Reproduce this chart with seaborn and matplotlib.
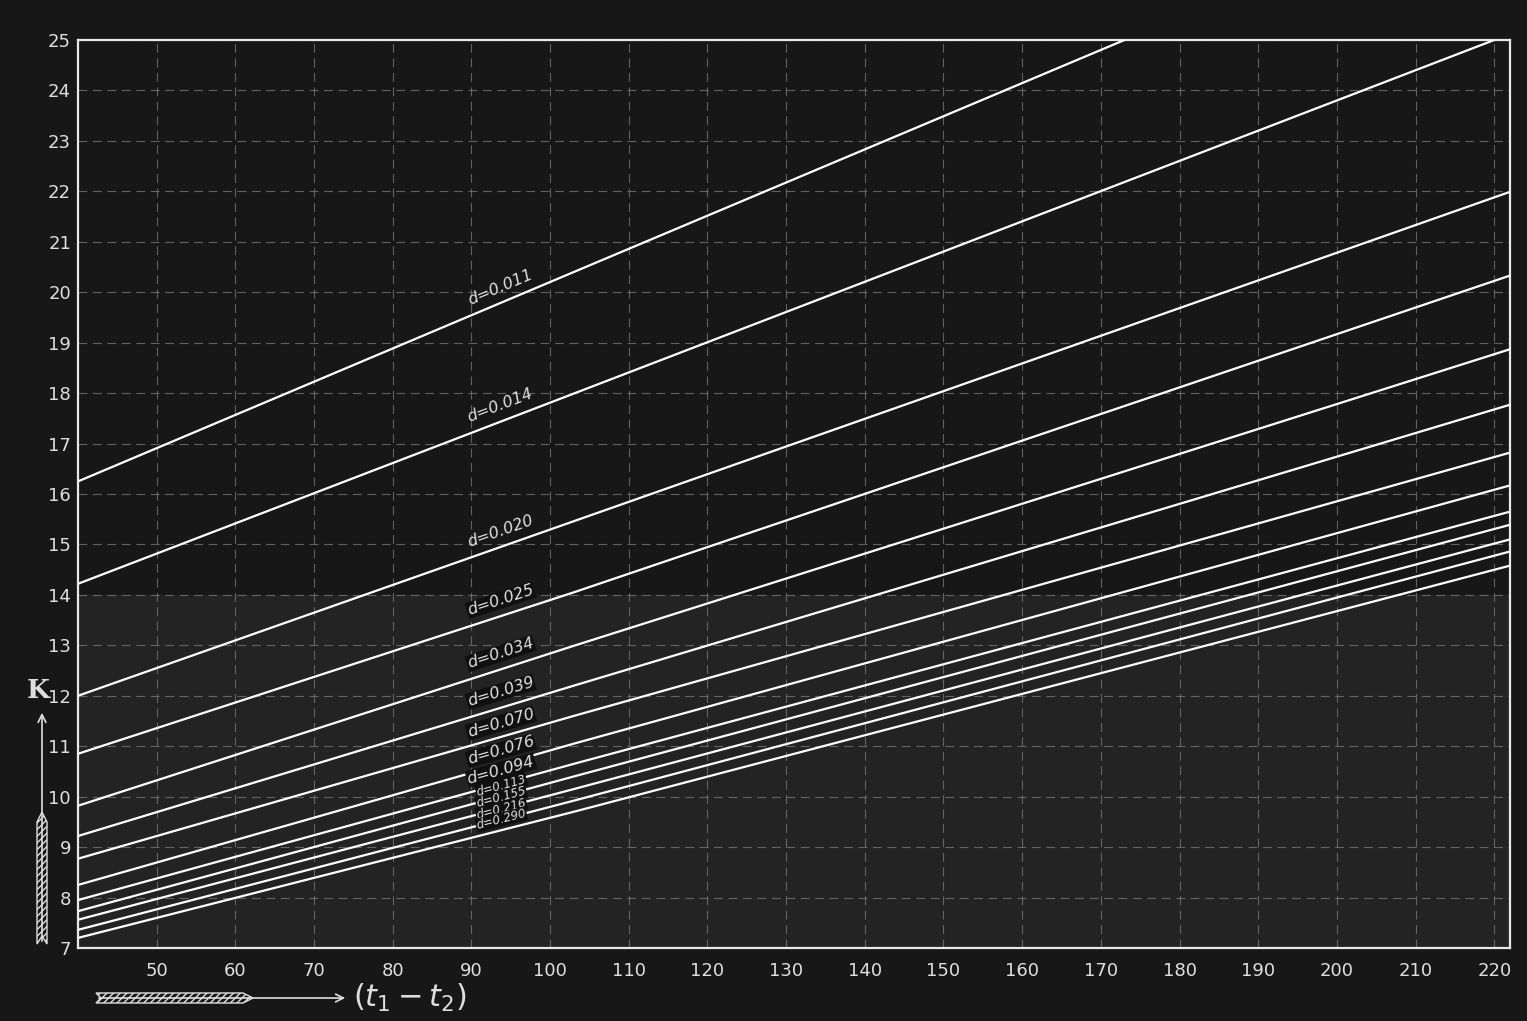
import numpy as np
import pandas as pd
import seaborn as sns
import matplotlib.pyplot as plt
from matplotlib.patches import Polygon

# Kurven K = f(t1 - t2) fuer verschiedene Durchmesser d
d_labels = ['0.011', '0.014', '0.020', '0.025', '0.034', '0.039', '0.070',
            '0.076', '0.094', '0.113', '0.155', '0.216', '0.290']
t_start = [40, 40, 40, 40, 40, 40, 40, 40, 40, 40, 40, 40, 40]
k_start = [16.25, 14.22, 12.0, 10.85, 9.82, 9.22, 8.77, 8.25, 7.95, 7.73, 7.56, 7.36, 7.2]
t_mid = [103, 103, 103, 103, 103, 103, 103, 103, 103, 103, 103, 103, 103]
k_mid = [20.4, 17.99, 15.46, 14.05, 12.99, 12.2, 11.6, 11.05, 10.65, 10.4, 10.15, 9.92, 9.7]
t_end = [173, 220, 222, 222, 222, 222, 222, 222, 222, 222, 222, 222, 222]
k_end = [25.0, 25.0, 21.99, 20.33, 18.87, 17.77, 16.82, 16.17, 15.65, 15.39, 15.10, 14.86, 14.58]

x_ticks = list(range(50, 221, 10))
y_ticks = list(range(7, 26))

rows = []
for i, d in enumerate(d_labels):
    for t, k in zip([t_start[i], t_mid[i], t_end[i]], [k_start[i], k_mid[i], k_end[i]]):
        rows.append({'d': d, 't': t, 'K': k})
df = pd.DataFrame(rows)

W, H = 1527, 1021
bg = '#171717'
fg = '#dedede'

sns.set_theme(style='dark', rc={'figure.facecolor': bg, 'axes.facecolor': bg,
                                'savefig.facecolor': bg})
plt.rcParams['font.family'] = ['DejaVu Sans']

fig = plt.figure(figsize=(W / 100, H / 100), dpi=100)
ax = fig.add_axes([78 / W, 1 - 948 / H, (1510 - 78) / W, (948 - 40) / H])

# untere Haelfte etwas heller (aufgeklebtes Stueck)
ax.axhspan(7, 14, color='#232323', zorder=0)

sns.lineplot(data=df, x='t', y='K', hue='d', palette=['white'] * len(d_labels),
             legend=False, estimator=None, sort=False, lw=1.6, ax=ax, zorder=3)

ax.set_xlim(40, 222)
ax.set_ylim(7, 25)
ax.set_xticks(x_ticks)
ax.set_yticks(y_ticks)
ax.set_xlabel('')
ax.set_ylabel('')
ax.grid(True, color='#808080', linestyle=(0, (8, 5)), lw=0.8, alpha=0.7)
ax.tick_params(colors=fg, length=0, labelsize=13)
ax.tick_params(axis='x', pad=10)
ax.tick_params(axis='y', pad=5)
for s in ax.spines.values():
    s.set_visible(True)
    s.set_color('#e8e8e8')
    s.set_linewidth(1.6)

# Beschriftung d = ... an den Kurven
fig.canvas.draw()
for i, d in enumerate(d_labels):
    ts = [t_start[i], t_mid[i], t_end[i]]
    ks = [k_start[i], k_mid[i], k_end[i]]
    tl = 94
    kl = np.interp(tl, ts, ks)
    slope = (ks[1] - ks[0]) / (ts[1] - ts[0])
    ang = ax.transData.transform_angles(np.array([np.degrees(np.arctan(slope))]),
                                        np.array([[tl, kl]]))[0]
    small = i >= 9
    off = 0.08 if small else (0.12 if i >= 6 else 0.16)
    ax.text(tl, kl + off, 'd=' + d, rotation=ang, rotation_mode='anchor',
            ha='center', va='bottom', fontsize=8.5 if small else 11.5,
            fontstyle='italic', color=fg, zorder=4,
            bbox=dict(boxstyle='square,pad=0.05', fc='#101010', ec='none') if i >= 3 else None)


def fx(x):
    return x / W


def fy(y):
    return 1 - y / H


# K-Achse mit Pfeil
fig.text(fx(38), fy(690), 'K', fontsize=19, fontweight='bold', family='DejaVu Serif',
         color=fg, ha='center', va='center')
ax.annotate('', xy=(fx(42), fy(710)), xytext=(fx(42), fy(944)),
            xycoords='figure fraction', textcoords='figure fraction',
            arrowprops=dict(arrowstyle='->', color=fg, lw=1.2, mutation_scale=14))
fig.add_artist(Polygon([(fx(37), fy(822)), (fx(42), fy(812)), (fx(47), fy(822)),
                        (fx(47), fy(944)), (fx(42), fy(936)), (fx(37), fy(944))],
                       closed=True, transform=fig.transFigure, fill=False,
                       hatch='/////', edgecolor=fg, lw=1.0))

# (t1 - t2)-Achse mit Pfeil
ax.annotate('', xy=(fx(348), fy(998)), xytext=(fx(96), fy(998)),
            xycoords='figure fraction', textcoords='figure fraction',
            arrowprops=dict(arrowstyle='->', color=fg, lw=1.2, mutation_scale=14))
fig.add_artist(Polygon([(fx(96), fy(993)), (fx(243), fy(993)), (fx(253), fy(998)),
                        (fx(243), fy(1003)), (fx(96), fy(1003)), (fx(101), fy(998))],
                       closed=True, transform=fig.transFigure, fill=False,
                       hatch='/////', edgecolor=fg, lw=1.0))
fig.text(fx(410), fy(998), r'$(t_{1}-t_{2})$', fontsize=22, color=fg,
         ha='center', va='center')

fig.savefig('out.png', dpi=100, facecolor=bg)
